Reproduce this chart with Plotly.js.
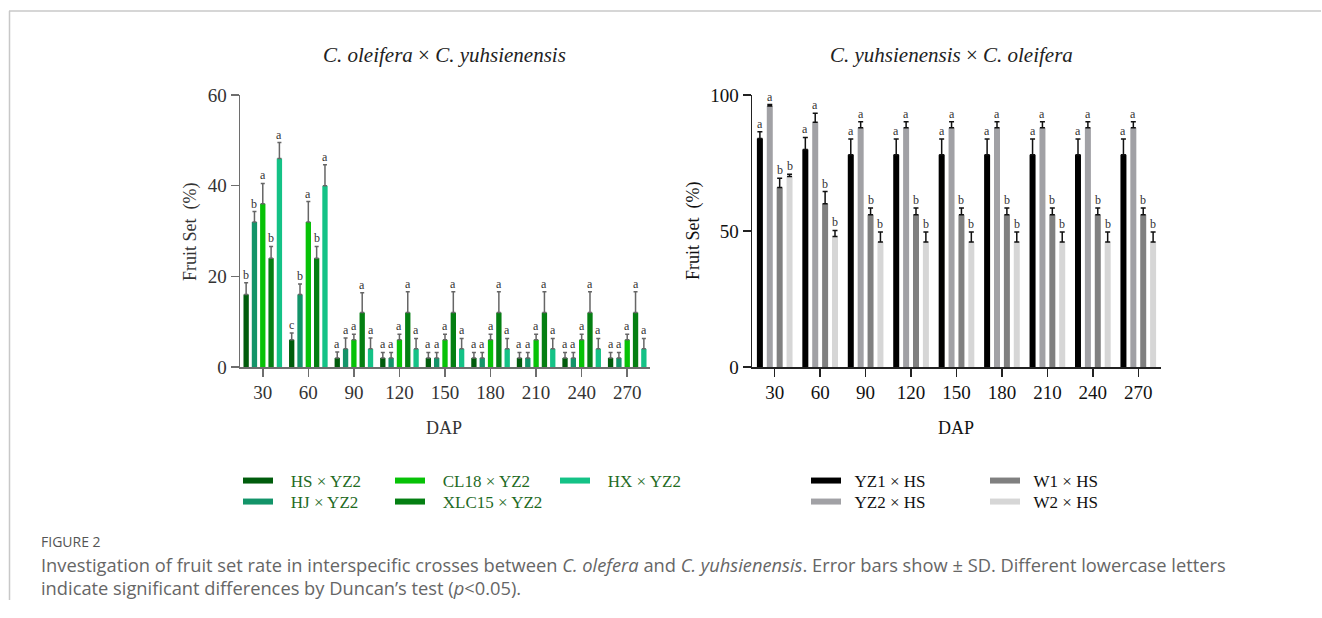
<!DOCTYPE html>
<html><head><meta charset="utf-8">
<script src="https://cdn.plot.ly/plotly-3.0.1.min.js"></script>
<style>html,body{margin:0;padding:0;background:#fff}#chart{width:1322px;height:618px}</style>
</head><body><div id="chart"></div>
<script>
// ---------- DATA ----------
const categories = ['30','60','90','120','150','180','210','240','270'];

const leftNames = ['HS × YZ2','HJ × YZ2','CL18 × YZ2','XLC15 × YZ2','HX × YZ2'];
const hsYZ2    = [16, 6, 2, 2, 2, 2, 2, 2, 2];
const hjYZ2    = [32,16, 4, 2, 2, 2, 2, 2, 2];
const cl18YZ2  = [36,32, 6, 6, 6, 6, 6, 6, 6];
const xlc15YZ2 = [24,24,12,12,12,12,12,12,12];
const hxYZ2    = [46,40, 4, 4, 4, 4, 4, 4, 4];
const hsSd     = [2.6,1.5,1.3,1.2,1.2,1.2,1.2,1.2,1.2];
const hjSd     = [2.3,2.3,2.4,1.2,1.2,1.2,1.2,1.2,1.2];
const cl18Sd   = [4.5,4.5,1.2,1.2,1.2,1.2,1.2,1.2,1.2];
const xlc15Sd  = [2.6,2.6,4.4,4.6,4.6,4.6,4.6,4.6,4.6];
const hxSd     = [3.5,4.6,2.4,2.3,2.3,2.3,2.3,2.3,2.3];
const hsLetters    = ['b','c','a','a','a','a','a','a','a'];
const hjLetters    = ['b','b','a','a','a','a','a','a','a'];
const cl18Letters  = ['a','a','a','a','a','a','a','a','a'];
const xlc15Letters = ['b','b','a','a','a','a','a','a','a'];
const hxLetters    = ['a','a','a','a','a','a','a','a','a'];

const rightNames = ['YZ1 × HS','YZ2 × HS','W1 × HS','W2 × HS'];
const yz1HS = [84,80,78,78,78,78,78,78,78];
const yz2HS = [96,90,88,88,88,88,88,88,88];
const w1HS  = [66,60,56,56,56,56,56,56,56];
const w2HS  = [70,48,46,46,46,46,46,46,46];
const yz1Sd = [2.5,4.4,5.8,5.8,5.8,5.8,5.8,5.8,5.8];
const yz2Sd = [0.5,3.3,2.2,2.2,2.2,2.2,2.2,2.2,2.2];
const w1Sd  = [3.4,4.5,2.5,2.5,2.5,2.5,2.5,2.5,2.5];
const w2Sd  = [0.9,2.2,3.6,3.6,3.6,3.6,3.6,3.6,3.6];
const yz1Letters = ['a','a','a','a','a','a','a','a','a'];
const yz2Letters = ['a','a','a','a','a','a','a','a','a'];
const w1Letters  = ['b','b','b','b','b','b','b','b','b'];
const w2Letters  = ['b','b','b','b','b','b','b','b','b'];

// ---------- STYLE ----------
const W = 1322, H = 618;
const px = v => v / W, py = v => 1 - v / H;
const SERIF = 'Liberation Serif, Times New Roman, serif';
const leftColors  = ['#005c0c','#139469','#07c207','#047f12','#14c286'];
const rightColors = ['#000000','#a1a1a5','#808080','#d6d6d6'];
// legend slot for each series: [left x of legend, row], row tops in px
const ROWS = [463, 484];
const leftLegendPos  = [[238,0],[238,1],[390,0],[390,1],[555,0]];
const rightLegendPos = [[806,0],[806,1],[985,0],[985,1]];

const leftVals = [hsYZ2,hjYZ2,cl18YZ2,xlc15YZ2,hxYZ2];
const leftSds = [hsSd,hjSd,cl18Sd,xlc15Sd,hxSd];
const leftLet = [hsLetters,hjLetters,cl18Letters,xlc15Letters,hxLetters];
const rightVals = [yz1HS,yz2HS,w1HS,w2HS];
const rightSds = [yz1Sd,yz2Sd,w1Sd,w2Sd];
const rightLet = [yz1Letters,yz2Letters,w1Letters,w2Letters];

const idx = categories.map((c,i)=>i);
const traces = [];
const annotations = [];
const legends = {};
let legendCount = 0;

function addGroup(names, vals, sds, lets, colors, legPos, xa, ya, slot, bw, errColor, capW, legendColor, pad) {
  const n = names.length;
  names.forEach((nm, k) => {
    const center = (k - (n-1)/2) * slot;
    traces.push({
      type:'bar', x: idx, y: vals[k], xaxis: xa, yaxis: ya,
      offset: center - bw/2, width: bw,
      marker:{color: colors[k], line:{width:0}},
      error_y:{type:'data', symmetric:false, array: sds[k], arrayminus: sds[k].map(()=>0),
               color: errColor, thickness: 1.5, width: capW},
      showlegend:false, hoverinfo:'skip'
    });
    legendCount++;
    const key = legendCount === 1 ? 'legend' : 'legend' + legendCount;
    legends[key] = {x: px(legPos[k][0]), y: py(ROWS[legPos[k][1]]), xanchor:'left', yanchor:'top',
      orientation:'v', bgcolor:'rgba(0,0,0,0)', borderwidth:0, itemwidth:30,
      font:{family:SERIF, size:17, color: legendColor}, itemclick:false, itemdoubleclick:false};
    traces.push({
      type:'scatter', mode:'lines', x:[null], y:[null], xaxis: xa, yaxis: ya,
      name: pad + nm, legend: key, line:{color: colors[k], width: 6},
      hoverinfo:'skip'
    });
    idx.forEach(i => {
      annotations.push({
        xref: xa, yref: ya, x: i + center, y: vals[k][i] + sds[k][i],
        text: lets[k][i], showarrow:false, yanchor:'bottom', xanchor:'center', yshift:-1,
        font:{family:SERIF, size:12, color:'#333'}
      });
    });
  });
}

addGroup(leftNames, leftVals, leftSds, leftLet, leftColors, leftLegendPos, 'x', 'y', 0.1826, 0.117, '#666', 2, '#1f6b1f', '\u00a0\u00a0\u00a0');
addGroup(rightNames, rightVals, rightSds, rightLet, rightColors, rightLegendPos, 'x2', 'y2', 0.2176, 0.132, '#111', 2.5, '#111', '\u00a0\u00a0');

function txt(x, y, text, opts) {
  annotations.push(Object.assign({xref:'paper', yref:'paper', x: px(x), y: py(y), text, showarrow:false,
    xanchor:'center', yanchor:'middle', font:{family:SERIF, size:18, color:'#333'}}, opts||{}));
}
txt(444, 55, '<i>C. oleifera</i> × <i>C. yuhsienensis</i>', {font:{family:SERIF,size:21,color:'#222'}});
txt(951, 55, '<i>C. yuhsienensis</i> × <i>C. oleifera</i>', {font:{family:SERIF,size:21,color:'#222'}});
txt(190, 231, 'Fruit Set\u00a0 (%)', {textangle:-90});
txt(693, 231, 'Fruit Set\u00a0 (%)', {textangle:-90, font:{family:SERIF,size:18,color:'#111'}});
txt(444, 428, 'DAP');
txt(956, 428, 'DAP', {font:{family:SERIF,size:18,color:'#111'}});
const CAP = 'Open Sans, Lato, sans-serif';
txt(39, 541, 'FIGURE 2', {xanchor:'left', font:{family:CAP, size:14, color:'#555'}});
txt(39, 564, 'Investigation of fruit set rate in interspecific crosses between <i>C. olefera</i> and <i>C. yuhsienensis</i>. Error bars show ± SD. Different lowercase letters', {xanchor:'left', font:{family:CAP, size:18.3, color:'#666'}});
txt(39, 587, 'indicate significant differences by Duncan\u2019s test (<i>p</i>&lt;0.05).', {xanchor:'left', font:{family:CAP, size:18.3, color:'#666'}});

function xax(domain, lc, tc) {
  return {domain, type:'category', range:[-0.5, 8.5], tickvals: idx, ticktext: categories,
    showline:true, linecolor:lc, linewidth:1.5, ticks:'outside', ticklen:8, tickwidth:1.5, tickcolor:lc,
    tickfont:{family:SERIF, size:19, color:tc}, showgrid:false, zeroline:false, fixedrange:true};
}
function yax(domain, range, tv, lc, tc, anchor) {
  return {domain, range, tickvals: tv, anchor, showline:true, linecolor:lc, linewidth:1.5, ticks:'outside',
    ticklen:8, tickwidth:1.5, tickcolor:lc, tickfont:{family:SERIF, size:19, color:tc},
    showgrid:false, zeroline:false, fixedrange:true};
}
const yDom = [py(367), py(95)];
const layout = Object.assign({
  width: W, height: H, margin:{l:0,r:0,t:0,b:0}, paper_bgcolor:'#fff', plot_bgcolor:'rgba(0,0,0,0)',
  barmode:'overlay', showlegend:true,
  xaxis: Object.assign(xax([px(240), px(650)], '#6e6e6e', '#333'), {anchor:'y'}),
  yaxis: yax(yDom, [0,60], [0,20,40,60], '#6e6e6e', '#333', 'x'),
  xaxis2: Object.assign(xax([px(752), px(1161)], '#222', '#111'), {anchor:'y2'}),
  yaxis2: yax(yDom, [0,100], [0,50,100], '#222', '#111', 'x2'),
  annotations,
  shapes:[
    {type:'line', xref:'paper', yref:'paper', x0:px(9), x1:px(1321), y0:py(11), y1:py(11), line:{color:'#c8c8c8', width:1.5}},
    {type:'line', xref:'paper', yref:'paper', x0:px(9.5), x1:px(9.5), y0:py(11), y1:py(600), line:{color:'#c8c8c8', width:1.5}}
  ]
}, legends);
Plotly.newPlot('chart', traces, layout, {displayModeBar:false, staticPlot:true});
</script></body></html>
